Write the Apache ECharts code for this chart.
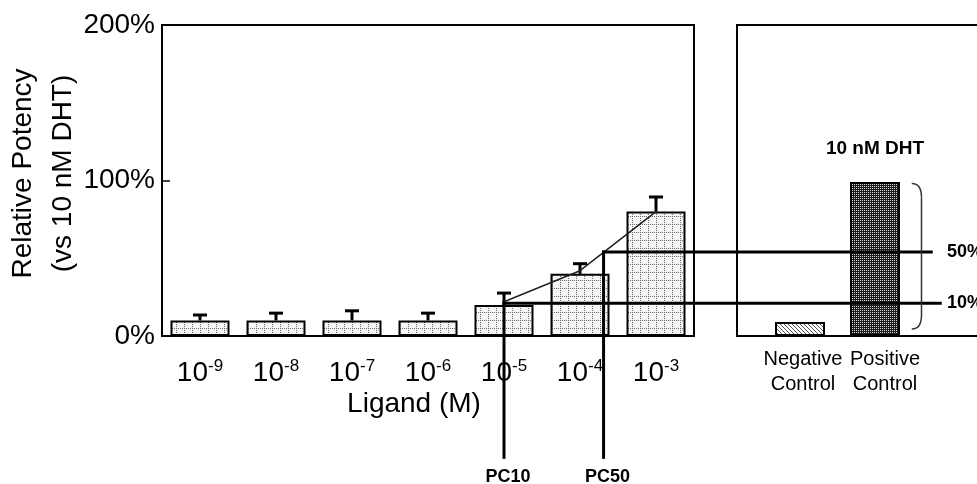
<!DOCTYPE html>
<html><head><meta charset="utf-8">
<script src="https://cdn.jsdelivr.net/npm/echarts@6/dist/echarts.min.js"></script>
<style>html,body{margin:0;padding:0;background:#fff}#c{width:977px;height:484px}</style>
</head><body><div id="c"></div>
<script>
// ---------- data ----------
const ligandExponents = ['-9','-8','-7','-6','-5','-4','-3'];
const potency = [10, 10, 10, 10, 20, 40, 80];
const potencyErrTop = [13.5, 14.7, 16.2, 14.7, 27.6, 46.5, 89.4];
const trendIndex = [4, 5, 6];
const trendValues = [22, 42, 80];
const controlNames = ['Negative\nControl', 'Positive\nControl'];
const controlValues = [9, 99];
const yTickValues = [0, 100, 200];
const pcNames = ['PC10', 'PC50'];
const pcLevelLabels = ['10%', '50%'];
const pcIndex = [4.0, 5.31];
const pcLevels = [21, 54];
const positiveLabel = '10 nM DHT';

// ---------- annotation geometry ----------
const ANN = { pcBottom: -79, lineEnd: [1.89, 1.77], labelX: 1.96,
  braceTipX: 1.49, braceSpineX: 1.62, braceTop: 98, braceBottom: 4.5,
  nameShift: [3, 10], nameGap: 11 };

const FONT = '"Liberation Sans", Arial, sans-serif';

function pattern(w, h, draw) {
  const c = document.createElement('canvas'); c.width = w; c.height = h;
  const g = c.getContext('2d'); draw(g); return { image: c, repeat: 'repeat' };
}
const gridPat = pattern(8, 8, g => {
  g.fillStyle = '#f6f6f6'; g.fillRect(0, 0, 8, 8);
  g.fillStyle = '#6a6a6a';
  for (let i = 0; i < 8; i += 2) { g.fillRect(i, 0, 1, 1); g.fillRect(0, i, 1, 1); }
});
const darkPat = pattern(2, 2, g => {
  g.fillStyle = '#1c1c1c'; g.fillRect(0, 0, 2, 2);
  g.fillStyle = '#d8d8d8'; g.fillRect(0, 0, 1, 1);
});
const hatchPat = pattern(4, 4, g => {
  g.fillStyle = '#ffffff'; g.fillRect(0, 0, 4, 4);
  g.fillStyle = '#555555';
  for (let i = 0; i < 4; i++) g.fillRect(i, i, 1, 1);
});

const chart = echarts.init(document.getElementById('c'), null, { renderer: 'canvas' });

const option = {
  animation: false,
  backgroundColor: '#ffffff',
  textStyle: { fontFamily: FONT, color: '#000' },
  grid: [
    { left: 162, right: 283, top: 25, bottom: 148, show: true, borderColor: '#000', borderWidth: 2,
      backgroundColor: 'transparent', containLabel: false, outerBoundsMode: 'none' },
    { left: 737, width: 300, top: 25, bottom: 148, show: true, borderColor: '#000', borderWidth: 2,
      backgroundColor: 'transparent', containLabel: false, outerBoundsMode: 'none' }
  ],
  xAxis: [
    { type: 'value', gridIndex: 0, min: -0.5, max: 6.5,
      splitLine: { show: false }, axisTick: { show: false },
      axisLine: { show: true, onZero: false, lineStyle: { color: '#000', width: 2 } },
      axisLabel: { customValues: ligandExponents.map((_, i) => i), margin: 22, hideOverlap: false,
        formatter: v => '{b|10}{s|' + ligandExponents[Math.round(v)] + '}',
        rich: { b: { fontSize: 28, lineHeight: 30, fontFamily: FONT, color: '#000' },
                s: { fontSize: 17, lineHeight: 30, verticalAlign: 'top', fontFamily: FONT, color: '#000' } } },
      name: 'Ligand (M)', nameLocation: 'middle', nameGap: 54, nameMoveOverlap: false,
      nameTextStyle: { fontSize: 28, fontFamily: FONT, color: '#000', padding: [0, 28, 0, 0] } },
    { type: 'value', gridIndex: 1, min: -0.84, max: 3.16,
      splitLine: { show: false }, axisTick: { show: false }, axisLabel: { show: false },
      axisLine: { show: true, onZero: false, lineStyle: { color: '#000', width: 2 } } }
  ],
  yAxis: [
    { type: 'value', gridIndex: 0, min: 0, max: 200, interval: 100,
      splitLine: { show: false },
      axisLine: { show: true, onZero: false, lineStyle: { color: '#000', width: 2 } },
      axisTick: { show: true, inside: true, length: 8, lineStyle: { color: '#000', width: 1.5 } },
      axisLabel: { fontSize: 28, fontFamily: FONT, color: '#000', margin: 7,
        formatter: v => yTickValues.includes(v) ? v + '%' : '' },
      name: 'Relative Potency\n(vs 10 nM DHT)', nameLocation: 'middle', nameGap: 79, nameMoveOverlap: false,
      nameTextStyle: { fontSize: 28, lineHeight: 40, fontFamily: FONT, color: '#000', padding: [0, 0, 0, 14] } },
    { type: 'value', gridIndex: 1, min: 0, max: 200, interval: 100, show: false }
  ],
  series: [
    { type: 'bar', xAxisIndex: 0, yAxisIndex: 0, barWidth: 59, z: 2,
      itemStyle: { color: gridPat, borderColor: '#000', borderWidth: 2 },
      data: potency.map((v, i) => [i, v]) },
    { type: 'custom', xAxisIndex: 0, yAxisIndex: 0, z: 4,
      data: potency.map((v, i) => [i, v, potencyErrTop[i]]),
      renderItem: (params, api) => {
        const p0 = api.coord([api.value(0), api.value(1)]);
        const p1 = api.coord([api.value(0), api.value(2)]);
        return { type: 'group', children: [
          { type: 'line', shape: { x1: p0[0], y1: p0[1], x2: p1[0], y2: p1[1] }, style: { stroke: '#000', lineWidth: 3 } },
          { type: 'line', shape: { x1: p1[0] - 7, y1: p1[1], x2: p1[0] + 7, y2: p1[1] }, style: { stroke: '#000', lineWidth: 3 } }
        ] };
      } },
    { type: 'line', xAxisIndex: 0, yAxisIndex: 0, z: 5, symbol: 'none',
      lineStyle: { color: '#222', width: 1.5 },
      data: trendIndex.map((x, i) => [x, trendValues[i]]) },
    { type: 'bar', xAxisIndex: 1, yAxisIndex: 1, barWidth: 50, z: 2,
      data: [
        { value: [0, controlValues[0]], itemStyle: { color: hatchPat, borderColor: '#000', borderWidth: 2 } },
        { value: [1, controlValues[1]], itemStyle: { color: darkPat, borderColor: '#000', borderWidth: 2 },
          label: { show: true, position: 'top', distance: 24, formatter: positiveLabel,
                   fontSize: 19, fontWeight: 'bold', fontFamily: FONT, color: '#000' } }
      ] },
    { type: 'custom', xAxisIndex: 1, yAxisIndex: 1, z: 4, silent: true,
      data: controlNames.map((n, i) => [i, 0]),
      renderItem: (params, api) => {
        const i = params.dataIndex;
        const p = api.coord([api.value(0), api.value(1)]);
        return { type: 'text', x: p[0] + ANN.nameShift[i], y: p[1] + ANN.nameGap,
          style: { text: controlNames[i], fontSize: 20, lineHeight: 25, fontFamily: FONT, fill: '#000',
                   align: 'center', verticalAlign: 'top' } };
      } }
  ]
};
chart.setOption(option);

function px(gi, x, y) { return chart.convertToPixel({ xAxisIndex: gi, yAxisIndex: gi }, [x, y]); }
const graphics = [];
pcIndex.forEach((x, i) => {
  const a = px(0, x, pcLevels[i]);
  const b = px(0, x, ANN.pcBottom);
  const e = px(1, ANN.lineEnd[i], pcLevels[i]);
  const l = px(1, ANN.labelX, pcLevels[i]);
  graphics.push({ type: 'line', z: 100, shape: { x1: a[0], y1: a[1] - 1.5, x2: b[0], y2: b[1] }, style: { stroke: '#000', lineWidth: 3 } });
  graphics.push({ type: 'line', z: 100, shape: { x1: a[0] - 1.5, y1: a[1], x2: e[0], y2: e[1] }, style: { stroke: '#000', lineWidth: 3 } });
  graphics.push({ type: 'text', z: 100, x: l[0], y: l[1],
    style: { text: pcLevelLabels[i], fontSize: 18, fontWeight: 'bold', fontFamily: FONT, fill: '#000', align: 'left', verticalAlign: 'middle' } });
  graphics.push({ type: 'text', z: 100, x: b[0] + 4, y: b[1] + 18,
    style: { text: pcNames[i], fontSize: 18, fontWeight: 'bold', fontFamily: FONT, fill: '#000', align: 'center', verticalAlign: 'middle' } });
});
const tTop = px(1, ANN.braceTipX, ANN.braceTop);
const sTop = px(1, ANN.braceSpineX, ANN.braceTop);
const tBot = px(1, ANN.braceTipX, ANN.braceBottom);
const sBot = px(1, ANN.braceSpineX, ANN.braceBottom);
const bs = { stroke: '#333', lineWidth: 1.5, fill: 'none' };
graphics.push({ type: 'bezierCurve', z: 100, shape: { x1: tTop[0], y1: tTop[1], x2: sTop[0], y2: sTop[1] + 14, cpx1: sTop[0], cpy1: sTop[1] }, style: bs });
graphics.push({ type: 'line', z: 100, shape: { x1: sTop[0], y1: sTop[1] + 14, x2: sBot[0], y2: sBot[1] - 14 }, style: bs });
graphics.push({ type: 'bezierCurve', z: 100, shape: { x1: sBot[0], y1: sBot[1] - 14, x2: tBot[0], y2: tBot[1], cpx1: sBot[0], cpy1: sBot[1] }, style: bs });
chart.setOption({ graphic: graphics });
</script>
</body></html>
